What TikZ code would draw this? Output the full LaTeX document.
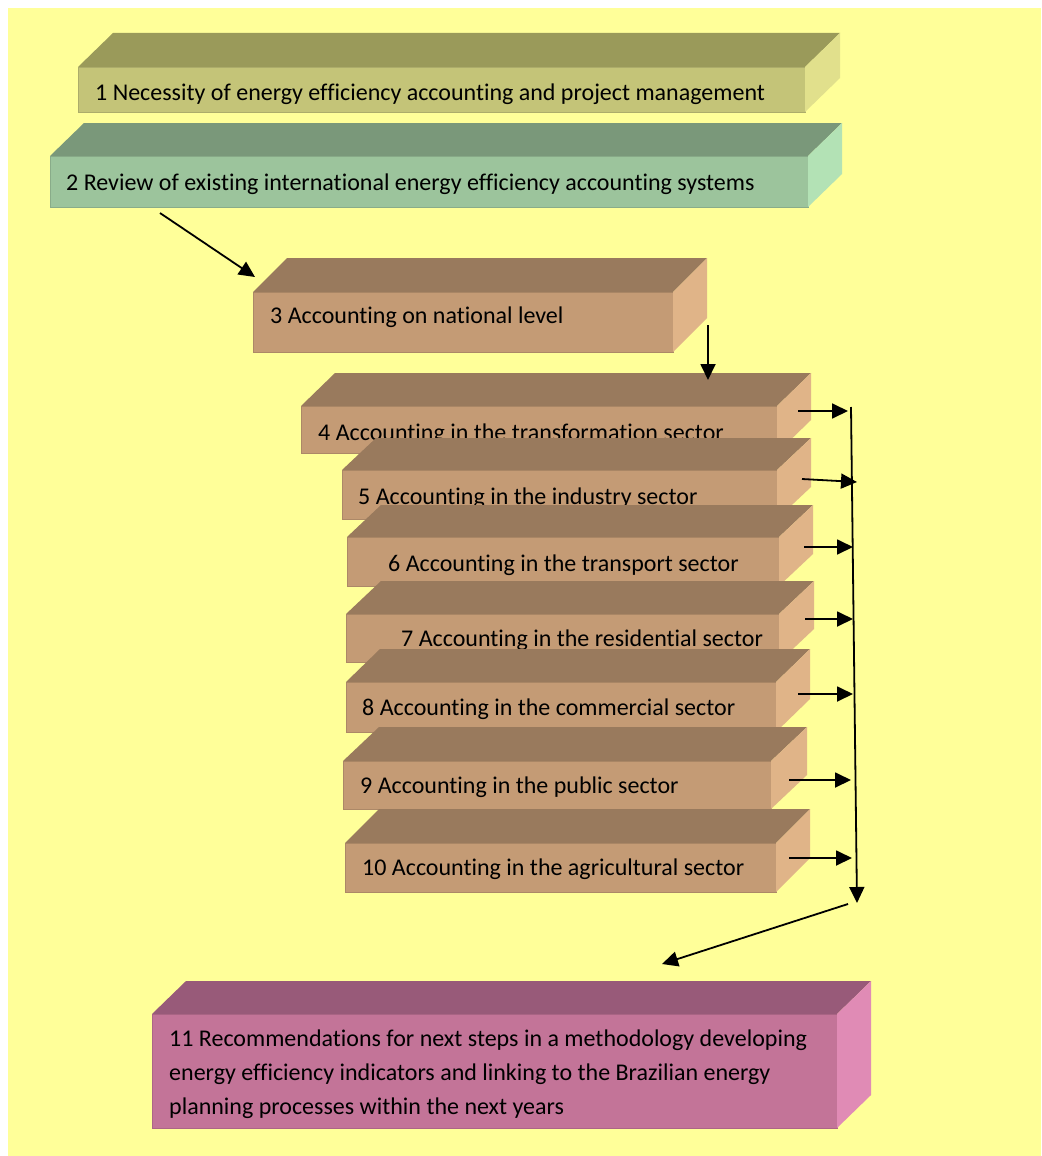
\documentclass[tikz,border=0pt]{standalone}
\usepackage{fontspec}
\setmainfont{Carlito}[Ligatures={NoCommon}]
\usetikzlibrary{arrows.meta,calc}
\definecolor{bg}{HTML}{FFFF99}
\definecolor{oliveTop}{HTML}{9A9A5A}
\definecolor{oliveFront}{HTML}{C4C478}
\definecolor{oliveSide}{HTML}{E1E08C}
\definecolor{greenTop}{HTML}{7A987A}
\definecolor{greenFront}{HTML}{9CC49C}
\definecolor{greenSide}{HTML}{B3E2B5}
\definecolor{brownTop}{HTML}{997A5D}
\definecolor{brownFront}{HTML}{C49B75}
\definecolor{brownSide}{HTML}{E0B488}
\definecolor{pinkTop}{HTML}{985A79}
\definecolor{pinkFront}{HTML}{C37498}
\definecolor{pinkSide}{HTML}{E08BB5}
\newcommand\drawcube[8]{%
  \node[frontface, fill=#8Front, draw=#8Front!88!black, minimum width=#4pt, minimum height=#5pt, anchor=north west] (#1) at (#2,#3) {};
  \fill[#8Top] (#1.north west) -- ++(#6,-#7) -- ($(#1.north east)+(#6,-#7)$) -- (#1.north east) -- cycle;
  \fill[#8Side] (#1.north east) -- ++(#6,-#7) -- ($(#1.south east)+(#6,-#7)$) -- (#1.south east) -- cycle;
}
\begin{document}
\begin{tikzpicture}[x=1pt,y=-1pt,
  frontface/.style={rectangle, inner sep=0pt, outer sep=0pt, line width=0.8pt},
  lbl/.style={inner sep=0pt, anchor=base west, font=\fontsize{24}{34}\selectfont, text=black},
  conn/.style={line width=1.8pt, -{Triangle[length=16pt,width=15pt]}}]
\useasboundingbox (0,0) rectangle (1041,1156);
\fill[bg] (8,8) rectangle (1041,1156);
% box 1
\drawcube{b1}{78}{67}{727}{45}{35}{34}{olive}
\node[lbl] (t1) at (95,100) {1 Necessity of energy efficiency accounting and project management};
% box 2
\drawcube{b2}{50}{156}{758}{51}{34}{33}{green}
\node[lbl] (t2) at (66,190) {2 Review of existing international energy efficiency accounting systems};
% box 3
\drawcube{b3}{253}{292}{420}{60}{34}{34}{brown}
\node[lbl] (t3) at (270,323) {3 Accounting on national level};
% box 4
\drawcube{b4}{301}{406}{476}{47}{34}{33}{brown}
\node[lbl] (t4) at (318,440) {4 Accounting in the transformation sector};
% box 5
\drawcube{b5}{342}{470}{435}{49}{34}{32}{brown}
\node[lbl] (t5) at (358,504) {5 Accounting in the industry sector};
% box 6
\drawcube{b6}{347}{537}{432}{49}{34}{32}{brown}
\node[lbl] (t6) at (388,571) {6 Accounting in the transport sector};
% box 7
\drawcube{b7}{346}{614}{433}{48}{35}{33}{brown}
\node[lbl] (t7) at (401,646) {7 Accounting in the residential sector};
% box 8
\drawcube{b8}{346}{682}{430}{50}{34}{33}{brown}
\node[lbl] (t8) at (362,715) {8 Accounting in the commercial sector};
% box 9
\drawcube{b9}{343}{761}{428}{48}{36}{34}{brown}
\node[lbl] (t9) at (360,793) {9 Accounting in the public sector};
% box 10
\drawcube{b10}{345}{843}{431}{49}{34}{34}{brown}
\node[lbl] (t10) at (362,875) {10 Accounting in the agricultural sector};
% box 11
\drawcube{b11}{152}{1014}{685}{114}{34}{33}{pink}
\node[lbl, align=left] (t11) at (169,1114) {11 Recommendations for next steps in a methodology developing\\energy efficiency indicators and linking to the Brazilian energy\\planning processes within the next years};
% connectors
\coordinate (busTop) at (851,407);
\coordinate (busBot) at (857,903);
\coordinate (e4) at (848,411);
\coordinate (e5) at (857,482);
\coordinate (e6) at (853,547);
\coordinate (e7) at (853,619);
\coordinate (e8) at (853,694);
\coordinate (e9) at (851,780);
\coordinate (e10) at (852,858);
\coordinate (s11) at (848,904);
\draw[conn] ($(b2.south west)+(110,6)$) -- ($(b3.north west)+(2,-15)$);
\draw[conn] ($(b3.north east)+(35,33)$) -- ($(b4.north east)+(-69,-26)$);
\draw[conn] ($(b4.north east)+(21,5)$) -- (e4);
\draw[conn] ($(b5.north east)+(25,9)$) -- (e5);
\draw[conn] ($(b6.north east)+(25,10)$) -- (e6);
\draw[conn] ($(b7.north east)+(26,5)$) -- (e7);
\draw[conn] ($(b8.north east)+(22,12)$) -- (e8);
\draw[conn] ($(b9.north east)+(18,19)$) -- (e9);
\draw[conn] ($(b10.north east)+(13,15)$) -- (e10);
\draw[conn] (busTop) -- (busBot);
\draw[conn] (s11) -- ($(b11.north west)+(510,-50)$);
\end{tikzpicture}
\end{document}
